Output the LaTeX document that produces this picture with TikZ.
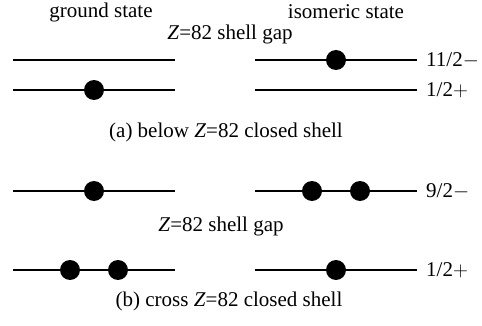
\documentclass[tikz,border=0pt]{standalone}
\usepackage{fontspec}
\setmainfont{Liberation Serif}
\begin{document}
\begin{tikzpicture}[x=1pt,y=-1pt,
  lbl/.style={font=\fontsize{21}{24}\selectfont, inner sep=0pt},
  level/.style={line width=1.3pt},
  particle/.style={circle, fill=black, minimum size=20pt, inner sep=0pt},
  jp/.style={lbl, anchor=west}]
\useasboundingbox (0,0) rectangle (482,326);

% column headings
\node[lbl] (gs) at (101,12) {ground state};
\node[lbl] (is) at (346,12) {isomeric state};

% (a) below the closed shell
\node[lbl] (gapa) at (230,34) {\textit{Z}=82 shell gap};
\coordinate (a1l) at (13,60);  \coordinate (a1r) at (175,60);
\coordinate (a2l) at (13,90);  \coordinate (a2r) at (175,90);
\coordinate (a3l) at (255,60); \coordinate (a3r) at (417,60);
\coordinate (a4l) at (255,90); \coordinate (a4r) at (417,90);
\draw[level] (a1l) -- (a1r);
\draw[level] (a2l) -- (a2r);
\draw[level] (a3l) -- (a3r);
\draw[level] (a4l) -- (a4r);
\node[particle] (pa1) at (94,90) {};
\node[particle] (pa2) at (336,60) {};
\node[jp] (ja1) at (426,60) {11/2$-$};
\node[jp] (ja2) at (426,90) {1/2$+$};
\node[lbl] (capa) at (226,132) {(a) below \textit{Z}=82 closed shell};

% (b) across the closed shell
\coordinate (b1l) at (13,191);  \coordinate (b1r) at (175,191);
\coordinate (b2l) at (13,270);  \coordinate (b2r) at (175,270);
\coordinate (b3l) at (255,191); \coordinate (b3r) at (417,191);
\coordinate (b4l) at (255,270); \coordinate (b4r) at (417,270);
\draw[level] (b1l) -- (b1r);
\draw[level] (b2l) -- (b2r);
\draw[level] (b3l) -- (b3r);
\draw[level] (b4l) -- (b4r);
\node[particle] (pb1) at (94,191) {};
\node[particle] (pb2) at (70,270) {};
\node[particle] (pb3) at (118,270) {};
\node[particle] (pb4) at (312,191) {};
\node[particle] (pb5) at (360,191) {};
\node[particle] (pb6) at (336,270) {};
\node[jp] (jb1) at (426,191) {9/2$-$};
\node[jp] (jb2) at (426,270) {1/2$+$};
\node[lbl] (gapb) at (221,226) {\textit{Z}=82 shell gap};
\node[lbl] (capb) at (229,301) {(b) cross \textit{Z}=82 closed shell};
\end{tikzpicture}
\end{document}
